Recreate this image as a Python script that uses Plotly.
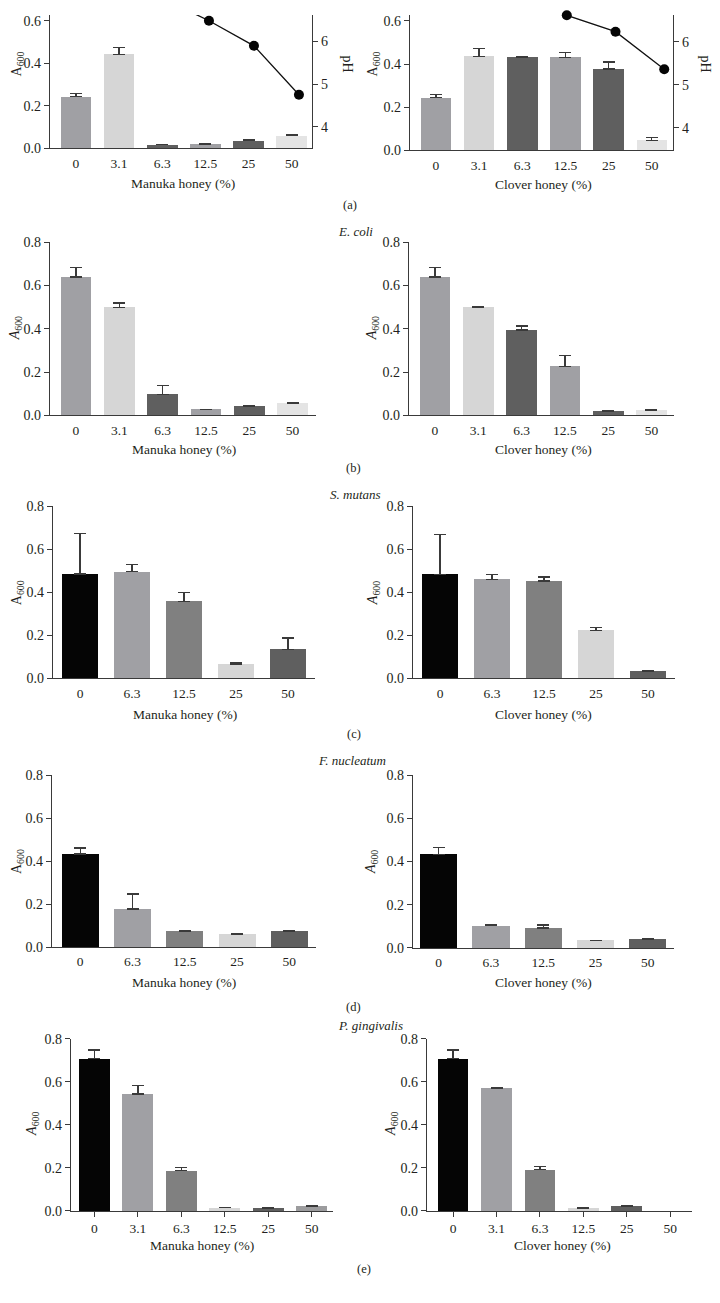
import plotly.graph_objects as go

# ---------------- data ----------------
cats6 = ["0", "3.1", "6.3", "12.5", "25", "50"]
cats5 = ["0", "6.3", "12.5", "25", "50"]

# (a) pH control
a_manuka_mean = [0.243, 0.443, 0.017, 0.019, 0.037, 0.060]
a_manuka_err = [0.014, 0.031, 0.002, 0.002, 0.002, 0.005]
a_manuka_ph = [None, None, 7.0, 6.49, 5.90, 4.75]
a_clover_mean = [0.244, 0.436, 0.431, 0.431, 0.377, 0.046]
a_clover_err = [0.016, 0.035, 0.002, 0.024, 0.033, 0.015]
a_clover_ph = [None, None, None, 6.61, 6.23, 5.36]
# (b) E. coli
b_manuka_mean = [0.639, 0.498, 0.095, 0.026, 0.043, 0.056]
b_manuka_err = [0.045, 0.022, 0.044, 0.002, 0.002, 0.002]
b_clover_mean = [0.639, 0.500, 0.394, 0.227, 0.018, 0.023]
b_clover_err = [0.046, 0.003, 0.019, 0.051, 0.002, 0.002]
# (c) S. mutans
c_manuka_mean = [0.484, 0.495, 0.356, 0.066, 0.133]
c_manuka_err = [0.189, 0.034, 0.041, 0.004, 0.054]
c_clover_mean = [0.482, 0.460, 0.452, 0.221, 0.034]
c_clover_err = [0.186, 0.023, 0.019, 0.014, 0.002]
# (d) F. nucleatum
d_manuka_mean = [0.432, 0.177, 0.074, 0.061, 0.074]
d_manuka_err = [0.029, 0.069, 0.003, 0.002, 0.003]
d_clover_mean = [0.433, 0.103, 0.093, 0.035, 0.041]
d_clover_err = [0.032, 0.005, 0.013, 0.001, 0.002]
# (e) P. gingivalis
e_manuka_mean = [0.709, 0.544, 0.188, 0.015, 0.013, 0.023]
e_manuka_err = [0.039, 0.038, 0.014, 0.002, 0.002, 0.003]
e_clover_mean = [0.709, 0.570, 0.191, 0.012, 0.021, 0.0]
e_clover_err = [0.039, 0.003, 0.014, 0.001, 0.002, 0.0]

# ---------------- styling ----------------
# The page body keeps its default 8px margin, so the figure is 16px smaller
# than the 720x1303 window and every reference pixel is shifted by 8.
OFF = 8
W, H = 720 - 2 * OFF, 1303 - 2 * OFF
FONT = "Liberation Serif, Times New Roman, serif"
TXT = "#231f20"
AX = "#3a3a3a"
BLACK, MED, LIGHT, DARK, GRAY, LIGHTER, MED2 = (
    "#050505", "#a0a0a4", "#d6d6d6", "#5f5f5f", "#808080", "#e4e4e4", "#9c9c9e")
colA = [MED, LIGHT, DARK, MED, DARK, LIGHTER]
colC = [BLACK, MED, GRAY, LIGHT, DARK]
colE = [BLACK, MED, GRAY, LIGHT, DARK, MED2]


def fx(px):
    return (px - OFF) / W


def fy(py):
    return min(1.0, 1 - (py - OFF) / H)


# y range helper: value at bottom is lo, top pixel clamped to OFF
def yrange(bottom_px, top_px, top_val, lo=0.0):
    scale = (bottom_px - top_px) / (top_val - lo)
    t = max(top_px, OFF)
    return [lo, lo + (bottom_px - t) / scale], t


panels = [
    dict(c=cats6, m=a_manuka_mean, e=a_manuka_err, col=colA, xd=(50, 312), yd=(0, 143), ytop=0.665,
         xr=(-0.6, 5.47), xt="Manuka honey (%)", xtp=(183, 178), ytp=(17, 58), it=False,
         ph=a_manuka_ph, phr=(3.49, 6.81), phx=(-0.533, 5.29), pht=(348, 57)),
    dict(c=cats6, m=a_clover_mean, e=a_clover_err, col=colA, xd=(410, 673), yd=(0, 145), ytop=0.664,
         xr=(-0.6, 5.49), xt="Clover honey (%)", xtp=(543, 180), ytp=(373, 58), it=False,
         ph=a_clover_ph, phr=(3.48, 6.80), phx=(-0.218, 5.18), pht=(706, 57)),
    dict(c=cats6, m=b_manuka_mean, e=b_manuka_err, col=colA, xd=(50, 316), yd=(238, 413), ytop=0.8,
         xr=(-0.6, 5.54), xt="Manuka honey (%)", xtp=(184, 448), ytp=(15, 325), it=True),
    dict(c=cats6, m=b_clover_mean, e=b_clover_err, col=colA, xd=(409, 674), yd=(238, 413), ytop=0.8,
         xr=(-0.6, 5.52), xt="Clover honey (%)", xtp=(543, 448), ytp=(372, 325), it=True),
    dict(c=cats5, m=c_manuka_mean, e=c_manuka_err, col=colC, xd=(53, 315), yd=(505, 679), ytop=0.8,
         xr=(-0.52, 4.52), xt="Manuka honey (%)", xtp=(185, 716), ytp=(17, 593), it=False),
    dict(c=cats5, m=c_clover_mean, e=c_clover_err, col=colC, xd=(413, 675), yd=(505, 679), ytop=0.8,
         xr=(-0.52, 4.52), xt="Clover honey (%)", xtp=(543, 716), ytp=(373, 593), it=True),
    dict(c=cats5, m=d_manuka_mean, e=d_manuka_err, col=colC, xd=(52, 316), yd=(777, 951), ytop=0.8,
         xr=(-0.54, 4.51), xt="Manuka honey (%)", xtp=(184, 987), ytp=(17, 865), it=False),
    dict(c=cats5, m=d_clover_mean, e=d_clover_err, col=colC, xd=(413, 674), yd=(777, 952), ytop=0.8,
         xr=(-0.49, 4.5), xt="Clover honey (%)", xtp=(543, 987), ytp=(371, 865), it=True),
    dict(c=cats6, m=e_manuka_mean, e=e_manuka_err, col=colE, xd=(71, 333), yd=(1044, 1218), ytop=0.8,
         xr=(-0.54, 5.49), xt="Manuka honey (%)", xtp=(202, 1253), ytp=(33, 1130), it=True, xticks=True),
    dict(c=cats6, m=e_clover_mean, e=e_clover_err, col=colE, xd=(427, 692), yd=(1044, 1218), ytop=0.8,
         xr=(-0.6, 5.5), xt="Clover honey (%)", xtp=(562, 1253), ytp=(392, 1130), it=True, xticks=True),
]

fig = go.Figure()
layout = dict(width=W, height=H, margin=dict(l=0, r=0, t=0, b=0), showlegend=False,
              plot_bgcolor="white", paper_bgcolor="white",
              font=dict(family=FONT, size=13, color=TXT), bargap=0)
annotations = []
xtickfont = dict(family=FONT, size=13.5, color=TXT)
ytickfont = dict(family=FONT, size=14, color=TXT)

n_ax = 0
for p in panels:
    n_ax += 1
    xi, yi = n_ax, n_ax
    xs = list(range(len(p["c"])))
    yr, top_px = yrange(p["yd"][1], p["yd"][0], p["ytop"])
    ydom = [fy(p["yd"][1]), fy(top_px)]
    # a zero mean is drawn as no bar at all (and no error cap)
    yvals = [v if v > 0 else None for v in p["m"]]
    fig.add_trace(go.Bar(
        x=xs, y=yvals, width=0.71, marker=dict(color=p["col"], line=dict(width=0)),
        error_y=dict(type="data", array=p["e"], arrayminus=[0] * len(p["e"]), symmetric=False,
                     color=AX, thickness=1.3, width=6),
        xaxis=f"x{xi}", yaxis=f"y{yi}", hoverinfo="skip"))
    show_xt = p.get("xticks", False)
    layout[f"xaxis{xi}"] = dict(
        domain=[fx(p["xd"][0]), fx(p["xd"][1])], anchor=f"y{yi}", range=list(p["xr"]),
        tickvals=xs, ticktext=p["c"], ticks="outside", ticklen=5 if show_xt else 2,
        tickwidth=1.3, tickcolor=AX if show_xt else "rgba(0,0,0,0)",
        showline=True, linecolor=AX, linewidth=1.3, showgrid=False, zeroline=False,
        tickfont=xtickfont, fixedrange=True)
    ytv = [v / 10 for v in range(0, 9, 2) if v / 10 <= yr[1] + 1e-9]
    layout[f"yaxis{yi}"] = dict(
        domain=ydom, anchor=f"x{xi}", range=yr,
        tickvals=ytv, ticktext=[f"{v:.1f}" for v in ytv], ticks="outside", ticklen=5,
        tickwidth=1.3, tickcolor=AX, showline=True, linecolor=AX, linewidth=1.3,
        showgrid=False, zeroline=False, tickfont=ytickfont, fixedrange=True)
    annotations.append(dict(x=fx(p["xtp"][0]), y=fy(p["xtp"][1]), xref="paper", yref="paper",
                            text=p["xt"], showarrow=False, font=dict(size=13.5),
                            xanchor="center", yanchor="middle"))
    ylab = "<i>A</i><sub>600</sub>" if p["it"] else "A<sub>600</sub>"
    annotations.append(dict(x=fx(p["ytp"][0]), y=fy(p["ytp"][1]), xref="paper", yref="paper",
                            text=ylab, showarrow=False, textangle=-90, font=dict(size=14),
                            xanchor="center", yanchor="middle"))
    if "ph" in p:
        n_ax += 1
        px_, py_ = n_ax, n_ax
        phr, _ = yrange(p["yd"][1], p["yd"][0], p["phr"][1], lo=p["phr"][0])
        layout[f"xaxis{px_}"] = dict(overlaying=f"x{xi}", domain=[fx(p["xd"][0]), fx(p["xd"][1])],
                                     anchor=f"y{py_}", range=list(p["phx"]), visible=False,
                                     fixedrange=True)
        layout[f"yaxis{py_}"] = dict(
            overlaying=f"y{yi}", side="right", anchor=f"x{px_}", range=phr,
            tickvals=[4, 5, 6], ticks="outside", ticklen=5, tickwidth=1.3, tickcolor=AX,
            showline=True, linecolor=AX, linewidth=1.3, showgrid=False, zeroline=False,
            tickfont=ytickfont, fixedrange=True)
        fig.add_trace(go.Scatter(
            x=xs, y=p["ph"], mode="lines+markers", connectgaps=False, cliponaxis=False,
            line=dict(color="#111", width=1.3), marker=dict(color="#050505", size=10),
            xaxis=f"x{px_}", yaxis=f"y{py_}", hoverinfo="skip"))
        annotations.append(dict(x=fx(p["pht"][0]), y=fy(p["pht"][1]), xref="paper", yref="paper",
                                text="pH", showarrow=False, textangle=90, font=dict(size=14),
                                xanchor="center", yanchor="middle"))

for txt, x, y in [("(a)", 350, 200), ("(b)", 353, 466), ("(c)", 354, 735),
                  ("(d)", 353, 1012), ("(e)", 364, 1277)]:
    annotations.append(dict(x=fx(x), y=fy(y), xref="paper", yref="paper", text=txt,
                            showarrow=False, font=dict(size=12.5), xanchor="center", yanchor="middle"))
for txt, x, y in [("E. coli", 355, 227), ("S. mutans", 355, 493),
                  ("F. nucleatum", 352, 762), ("P. gingivalis", 370, 1030)]:
    annotations.append(dict(x=fx(x), y=fy(y), xref="paper", yref="paper", text=f"<i>{txt}</i>",
                            showarrow=False, font=dict(size=13), xanchor="center", yanchor="middle"))

layout["annotations"] = annotations
fig.update_layout(**layout)
fig.write_html("out.html", config={"displayModeBar": False})
